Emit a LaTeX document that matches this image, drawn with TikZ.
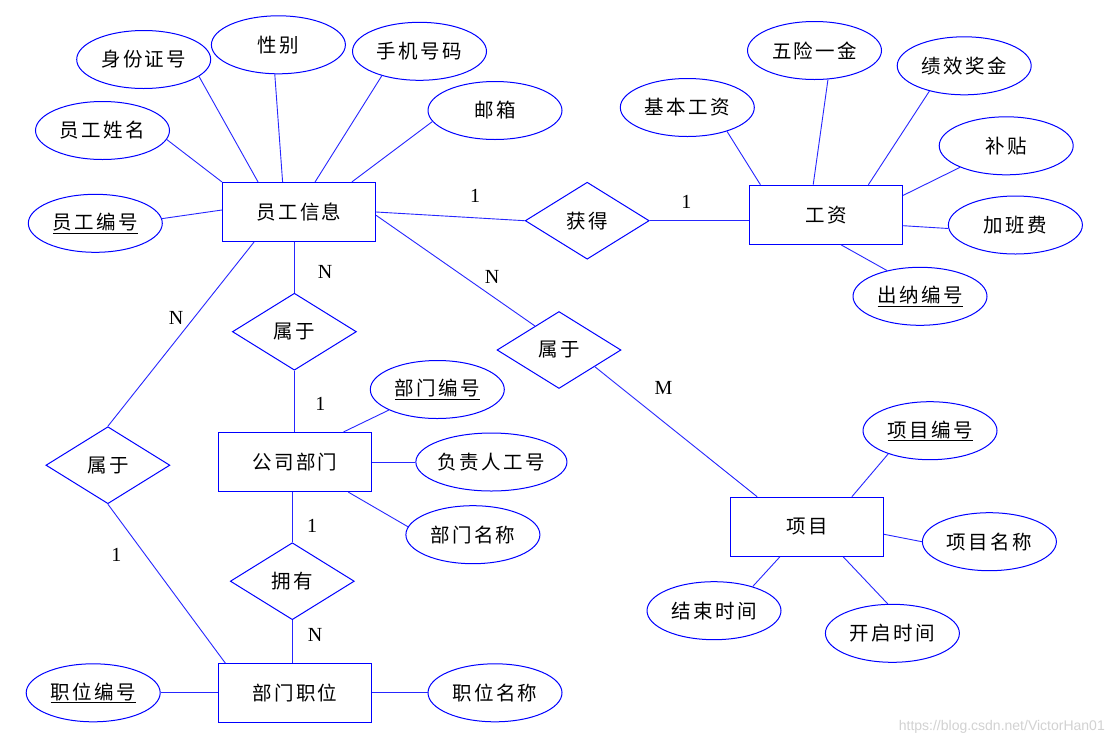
\documentclass[tikz,border=0pt]{standalone}
\usepackage{fontspec}
\setmainfont{Liberation Serif}
\newfontfamily\cjk[LetterSpace=12]{Noto Sans CJK SC}
\newfontfamily\wmfont{Liberation Sans}
\usetikzlibrary{shapes.geometric}
\begin{document}
\begin{tikzpicture}[x=1pt,y=-1pt,
  entity/.style={draw=blue, line width=1.2pt, minimum width=153pt, minimum height=59pt, inner sep=0pt, font=\cjk\fontsize{19.5}{22}\selectfont},
  attr/.style={ellipse, draw=blue, line width=1pt, minimum width=134pt, minimum height=58pt, inner sep=0pt, font=\cjk\fontsize{19.5}{22}\selectfont},
  rel/.style={diamond, draw=blue, line width=1pt, minimum width=124pt, minimum height=77pt, inner sep=0pt, font=\cjk\fontsize{19.5}{22}\selectfont},
  conn/.style={draw=blue!85!white, line width=0.9pt},
  card/.style={font=\fontsize{20}{22}\selectfont}
]
\useasboundingbox[fill=white] (0,0) rectangle (1113,745);

% entities
\node[entity] (emp) at (299,212) {员工信息};
\node[entity] (sal) at (826,214.8) {工资};
\node[entity] (dept) at (295,462) {公司部门};
\node[entity] (pos) at (295,693.3) {部门职位};
\node[entity] (proj) at (807,526.8) {项目};

% relationships
\node[rel] (gain) at (587.2,220.7) {获得};
\node[rel] (r1) at (294.4,331.7) {属于};
\node[rel] (r2) at (559,350) {属于};
\node[rel] (r3) at (107.9,465.2) {属于};
\node[rel] (own) at (292.3,581.2) {拥有};

% attributes
\node[attr] (sfz) at (143.7,59.5) {身份证号};
\node[attr] (xb) at (278.4,44.8) {性别};
\node[attr] (sj) at (419.5,51.3) {手机号码};
\node[attr] (yx) at (495,110.5) {邮箱};
\node[attr] (xm) at (102.5,130.5) {员工姓名};
\node[attr] (bh) at (95.3,223.3) {\underline{员工编号}};
\node[attr] (jb) at (687.3,107.5) {基本工资};
\node[attr] (wx) at (814.5,50.5) {五险一金};
\node[attr] (jx) at (964.2,65.8) {绩效奖金};
\node[attr] (bt) at (1006.2,145.8) {补贴};
\node[attr] (jbf) at (1015.4,225) {加班费};
\node[attr] (cn) at (920,296.3) {\underline{出纳编号}};
\node[attr] (bmbh) at (437.3,389.5) {\underline{部门编号}};
\node[attr] (fzr) at (491.4,462) {负责人工号};
\node[attr] (bmmc) at (472.9,534.7) {部门名称};
\node[attr] (zwbh) at (93.2,692.8) {\underline{职位编号}};
\node[attr] (zwmc) at (495,692.8) {职位名称};
\node[attr] (xmbh) at (930,430.7) {\underline{项目编号}};
\node[attr] (xmmc) at (989.4,541.7) {项目名称};
\node[attr] (js) at (714,610.7) {结束时间};
\node[attr] (kq) at (892.4,633.3) {开启时间};

% employee connectors
\draw[conn] (sfz.-17.9) -- ([xshift=36.1pt]emp.north west);
\draw[conn] (xb.263.8) -- ([xshift=60.7pt]emp.north west);
\draw[conn] (sj.213.2) -- ([xshift=93.2pt]emp.north west);
\draw[conn] (yx.190.1) -- ([xshift=130pt]emp.north west);
\draw[conn] (xm.-8.6) -- (emp.north west);
\draw[conn] (bh.4.3) -- ([yshift=2pt]emp.west);
\draw[conn] (emp.east) -- (gain.west);
\draw[conn] (gain.east) -- (gain.east -| sal.west);
\draw[conn] ([yshift=-3.3pt]emp.east) -- (r2.135);
\draw[conn] (emp.south -| r1.north) -- (r1.north);
\draw[conn] ([xshift=32.1pt]emp.south west) -- (r3.north);
\draw[conn] (r1.south) -- (r1.south |- dept.north);
\draw[conn] (own.north |- dept.south) -- (own.north);
\draw[conn] (own.south) -- (own.south |- pos.north);
\draw[conn] (r3.south) -- ([xshift=7.5pt]pos.north west);
\draw[conn] (r2.-25.7) -- ([xshift=27.2pt]proj.north west);

% salary connectors
\draw[conn] (jb.-31.1) -- ([xshift=11.5pt]sal.north west);
\draw[conn] (wx.-65.2) -- ([xshift=64.3pt]sal.north west);
\draw[conn] (jx.216.7) -- ([xshift=119.5pt]sal.north west);
\draw[conn] (bt.205.6) -- ([yshift=-10.7pt]sal.north east);
\draw[conn] (jbf.183.7) -- ([yshift=-10.9pt]sal.east);
\draw[conn] (cn.142.4) -- ([xshift=92.3pt]sal.south west);

% department connectors
\draw[conn] (bmbh.203) -- ([xshift=125.7pt]dept.north west);
\draw[conn] (fzr.west) -- (fzr.west -| dept.east);
\draw[conn] (bmmc.173) -- ([xshift=130.4pt]dept.south west);
\draw[conn] (zwbh.east) -- (zwbh.east -| pos.west);
\draw[conn] (zwmc.west) -- (zwmc.west -| pos.east);

% project connectors
\draw[conn] (xmbh.209.9) -- ([xshift=122pt]proj.north west);
\draw[conn] (xmmc.west) -- ([yshift=-7.5pt]proj.east);
\draw[conn] (js.32.9) -- ([xshift=49.9pt]proj.south west);
\draw[conn] (kq.99.5) -- ([xshift=113.4pt]proj.south west);

% cardinalities
\node[card] (c1) at (475,196) {1};
\node[card] (c2) at (686.4,201.7) {1};
\node[card] (c3) at (325,271.7) {N};
\node[card] (c4) at (492.1,276.7) {N};
\node[card] (c5) at (176,318.3) {N};
\node[card] (c6) at (320.4,404.3) {1};
\node[card] (c7) at (663.5,388.3) {M};
\node[card] (c8) at (312.1,525.7) {1};
\node[card] (c9) at (116.4,555) {1};
\node[card] (c10) at (315,635) {N};

% watermark
\node[anchor=east, text=gray!35, font=\wmfont\fontsize{14}{16}\selectfont, inner sep=0pt] (wm) at (1105,727) {https://blog.csdn.net/VictorHan01};
\end{tikzpicture}
\end{document}
